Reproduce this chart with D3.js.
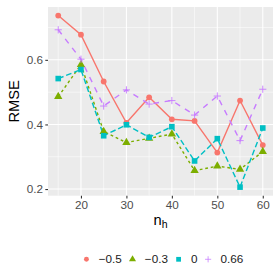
<!DOCTYPE html>
<html>
<head>
<meta charset="utf-8">
<script src="https://cdn.jsdelivr.net/npm/d3@7"></script>
<style>
  body { margin: 0; background: #fff; }
  svg { display: block; font-family: "Liberation Sans", Arial, sans-serif; }
</style>
</head>
<body>
<svg id="chart" width="280" height="280"></svg>
<script>
// values
const nh = [15, 20, 25, 30, 35, 40, 45, 50, 55, 60];
const groups = ["\u22120.5", "\u22120.3", "0", "0.66"];
const rmseA = [0.737, 0.678, 0.533, 0.405, 0.484, 0.416, 0.411, 0.313, 0.474, 0.336];
const rmseB = [0.486, 0.585, 0.378, 0.344, 0.357, 0.370, 0.257, 0.271, 0.261, 0.316];
const rmseC = [0.542, 0.570, 0.365, 0.399, 0.360, 0.393, 0.287, 0.356, 0.206, 0.389];
const rmseD = [0.693, 0.602, 0.457, 0.507, 0.463, 0.474, 0.429, 0.488, 0.350, 0.509];
const xTicks = [20, 30, 40, 50, 60];
const yTicks = [0.2, 0.4, 0.6];

const colors = ["#F8766D", "#7CAE00", "#00BFC4", "#C77CFF"];
const dashes = [null, "2.8,2.8", "5.7,2.8", "5.7,5.7"];
const shapes = ["circle", "triangle", "square", "plus"];

const series = [rmseA, rmseB, rmseC, rmseD].map((vals, i) => ({
  name: groups[i], color: colors[i], dash: dashes[i], shape: shapes[i],
  pts: vals.map((v, j) => ({x: nh[j], y: v}))
}));

const svg = d3.select("#chart");
const pLeft = 48, pRight = 273, pTop = 7, pBottom = 195.7;

// ggplot style 5% expansion
const allY = [].concat(rmseA, rmseB, rmseC, rmseD);
const yMin = d3.min(allY), yMax = d3.max(allY);
const xs = d3.scaleLinear()
  .domain([15 - 0.05 * 45, 60 + 0.05 * 45]).range([pLeft, pRight]);
const ys = d3.scaleLinear()
  .domain([yMin - 0.05 * (yMax - yMin), yMax + 0.05 * (yMax - yMin)]).range([pBottom, pTop]);

svg.append("rect").attr("x", pLeft).attr("y", pTop)
  .attr("width", pRight - pLeft).attr("height", pBottom - pTop).attr("fill", "#EBEBEB");

// minor grid
const g = svg.append("g");
[15, 25, 35, 45, 55].forEach(v => {
  g.append("line").attr("x1", xs(v)).attr("x2", xs(v)).attr("y1", pTop).attr("y2", pBottom)
    .attr("stroke", "#fff").attr("stroke-width", 0.53);
});
[0.3, 0.5, 0.7].forEach(v => {
  g.append("line").attr("y1", ys(v)).attr("y2", ys(v)).attr("x1", pLeft).attr("x2", pRight)
    .attr("stroke", "#fff").attr("stroke-width", 0.53);
});
// major grid
xTicks.forEach(v => {
  g.append("line").attr("x1", xs(v)).attr("x2", xs(v)).attr("y1", pTop).attr("y2", pBottom)
    .attr("stroke", "#fff").attr("stroke-width", 1.07);
});
yTicks.forEach(v => {
  g.append("line").attr("y1", ys(v)).attr("y2", ys(v)).attr("x1", pLeft).attr("x2", pRight)
    .attr("stroke", "#fff").attr("stroke-width", 1.07);
});

// axes
const xAxis = svg.append("g").attr("transform", `translate(0,${pBottom})`)
  .call(d3.axisBottom(xs).tickValues(xTicks).tickSize(2.7).tickPadding(2.2));
const yAxis = svg.append("g").attr("transform", `translate(${pLeft},0)`)
  .call(d3.axisLeft(ys).tickValues(yTicks).tickFormat(d3.format(".1f")).tickSize(2.7).tickPadding(2.2));
[xAxis, yAxis].forEach(a => {
  a.select(".domain").remove();
  a.selectAll(".tick line").attr("stroke", "#333333").attr("stroke-width", 1.07);
  a.selectAll(".tick text").attr("fill", "#4D4D4D").style("font-size", "11.7px")
    .style("font-family", "Liberation Sans, Arial, sans-serif");
});

// lines
const line = d3.line().x(d => xs(d.x)).y(d => ys(d.y));
series.forEach(s => {
  svg.append("path").datum(s.pts).attr("d", line)
    .attr("fill", "none").attr("stroke", s.color).attr("stroke-width", 1.42)
    .attr("stroke-dasharray", s.dash);
});

function drawShape(sel, shape, color) {
  if (shape === "circle") {
    sel.append("circle").attr("r", 2.9).attr("fill", color);
  } else if (shape === "triangle") {
    sel.append("path").attr("d", d3.symbol(d3.symbolTriangle, 30)()).attr("fill", color);
  } else if (shape === "square") {
    sel.append("rect").attr("x", -2.8).attr("y", -2.8).attr("width", 5.6).attr("height", 5.6).attr("fill", color);
  } else {
    sel.append("path").attr("d", "M-3.6,0H3.6M0,-3.6V3.6")
      .attr("stroke", color).attr("stroke-width", 0.9).attr("fill", "none");
  }
}

// points
series.forEach(s => {
  svg.append("g").selectAll("g").data(s.pts).join("g")
    .attr("transform", d => `translate(${xs(d.x)},${ys(d.y)})`)
    .each(function() { drawShape(d3.select(this), s.shape, s.color); });
});

// axis titles
svg.append("text").attr("transform", `translate(18.5,${(pTop + pBottom) / 2}) rotate(-90)`)
  .attr("text-anchor", "middle").style("font-size", "14.7px").attr("fill", "#000").text("RMSE");
const xt = svg.append("text").attr("x", (pLeft + pRight) / 2).attr("y", 225)
  .attr("text-anchor", "middle").style("font-size", "14.7px").attr("fill", "#000");
xt.append("tspan").text("n");
xt.append("tspan").attr("dy", 3).style("font-size", "10.5px").text("h");

// legend (keys show only the point shape, no background)
const leg = svg.append("g");
const keyW = 17.3, legY = 259.3;
let cx = 0;
series.forEach(s => {
  const it = leg.append("g");
  drawShape(it.append("g").attr("transform", `translate(${keyW / 2},0) scale(0.85)`), s.shape, s.color);
  const t = it.append("text").attr("x", keyW + 3.7).attr("dy", "0.35em")
    .style("font-size", "11.7px").attr("fill", "#1a1a1a").text(s.name);
  const w = keyW + 3.7 + t.node().getComputedTextLength();
  it.attr("transform", `translate(${cx},${legY})`);
  cx += w + 2;
});
const total = cx - 2;
leg.attr("transform", `translate(${(pLeft + pRight) / 2 - total / 2},0)`);
</script>
</body>
</html>
